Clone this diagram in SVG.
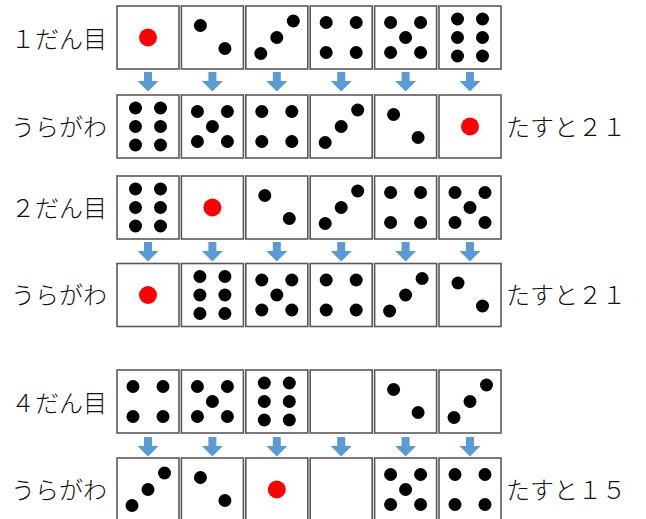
<svg xmlns="http://www.w3.org/2000/svg" xmlns:xlink="http://www.w3.org/1999/xlink" width="646" height="519" viewBox="0 0 646 519">
<style>
.box{fill:#fff;stroke:#595959;stroke-width:1.6}
.d{fill:#000}
.r{fill:#ff0000}
.ar{fill:#5b9bd5}
.t{font-family:"Noto Sans CJK JP","Noto Sans",sans-serif;font-size:24px;font-weight:300;fill:#111}
</style>
<defs>
<g id="f1"><circle class="r" cx="0" cy="0" r="9"/></g>
<g id="f2"><circle class="d" cx="-12" cy="-12" r="6.5"/><circle class="d" cx="12.5" cy="11" r="6.5"/></g>
<g id="f3"><circle class="d" cx="-16" cy="16" r="6.5"/><circle class="d" cx="0" cy="0" r="6.5"/><circle class="d" cx="16.5" cy="-16.5" r="6.5"/></g>
<g id="f4"><circle class="d" cx="-15" cy="-15" r="6.5"/><circle class="d" cx="15" cy="-15" r="6.5"/><circle class="d" cx="-15" cy="15" r="6.5"/><circle class="d" cx="15" cy="15" r="6.5"/></g>
<g id="f5"><circle class="d" cx="-15" cy="-15" r="6.5"/><circle class="d" cx="15" cy="-15" r="6.5"/><circle class="d" cx="0" cy="0" r="6.5"/><circle class="d" cx="-15" cy="15" r="6.5"/><circle class="d" cx="15" cy="15" r="6.5"/></g>
<g id="f6"><circle class="d" cx="-12.5" cy="-18.5" r="6.5"/><circle class="d" cx="12.5" cy="-18.5" r="6.5"/><circle class="d" cx="-12.5" cy="0" r="6.5"/><circle class="d" cx="12.5" cy="0" r="6.5"/><circle class="d" cx="-12.5" cy="18.5" r="6.5"/><circle class="d" cx="12.5" cy="18.5" r="6.5"/></g>
<rect id="bx" class="box" x="-31" y="-31.5" width="62" height="63"/>
<path id="arr" class="ar" d="M-4,0 h8 v9 h6.5 l-10.5,10.5 l-10.5,-10.5 h6.5 z"/>
</defs>

<g id="labels">
<text class="t" x="11" y="48">１だん目</text>
<text class="t" x="11" y="136">うらがわ</text>
<text class="t" x="506" y="136">たすと２１</text>
<text class="t" x="11" y="217">２だん目</text>
<text class="t" x="11" y="304">うらがわ</text>
<text class="t" x="506" y="304">たすと２１</text>
<text class="t" x="11" y="412">４だん目</text>
<text class="t" x="11" y="499">うらがわ</text>
<text class="t" x="506" y="499">たすと１５</text>
</g>

<g id="connectors">
<use href="#arr" x="148" y="72"/><use href="#arr" x="212.4" y="72"/><use href="#arr" x="276.8" y="72"/><use href="#arr" x="341.2" y="72"/><use href="#arr" x="405.6" y="72"/><use href="#arr" x="470" y="72"/>
<use href="#arr" x="148" y="242"/><use href="#arr" x="212.4" y="242"/><use href="#arr" x="276.8" y="242"/><use href="#arr" x="341.2" y="242"/><use href="#arr" x="405.6" y="242"/><use href="#arr" x="470" y="242"/>
<use href="#arr" x="148" y="437"/><use href="#arr" x="212.4" y="437"/><use href="#arr" x="276.8" y="437"/><use href="#arr" x="341.2" y="437"/><use href="#arr" x="405.6" y="437"/><use href="#arr" x="470" y="437"/>
</g>

<!-- row 1 -->
<g id="r1c1" transform="translate(148,37.5)"><use href="#bx"/><use href="#f1"/></g>
<g id="r1c2" transform="translate(212.4,37.5)"><use href="#bx"/><use href="#f2"/></g>
<g id="r1c3" transform="translate(276.8,37.5)"><use href="#bx"/><use href="#f3"/></g>
<g id="r1c4" transform="translate(341.2,37.5)"><use href="#bx"/><use href="#f4"/></g>
<g id="r1c5" transform="translate(405.6,37.5)"><use href="#bx"/><use href="#f5"/></g>
<g id="r1c6" transform="translate(470,37.5)"><use href="#bx"/><use href="#f6"/></g>
<!-- row 2 -->
<g id="r2c1" transform="translate(148,126.5)"><use href="#bx"/><use href="#f6"/></g>
<g id="r2c2" transform="translate(212.4,126.5)"><use href="#bx"/><use href="#f5"/></g>
<g id="r2c3" transform="translate(276.8,126.5)"><use href="#bx"/><use href="#f4"/></g>
<g id="r2c4" transform="translate(341.2,126.5)"><use href="#bx"/><use href="#f3"/></g>
<g id="r2c5" transform="translate(405.6,126.5)"><use href="#bx"/><use href="#f2"/></g>
<g id="r2c6" transform="translate(470,126.5)"><use href="#bx"/><use href="#f1"/></g>
<!-- row 3 -->
<g id="r3c1" transform="translate(148,207.5)"><use href="#bx"/><use href="#f6"/></g>
<g id="r3c2" transform="translate(212.4,207.5)"><use href="#bx"/><use href="#f1"/></g>
<g id="r3c3" transform="translate(276.8,207.5)"><use href="#bx"/><use href="#f2"/></g>
<g id="r3c4" transform="translate(341.2,207.5)"><use href="#bx"/><use href="#f3"/></g>
<g id="r3c5" transform="translate(405.6,207.5)"><use href="#bx"/><use href="#f4"/></g>
<g id="r3c6" transform="translate(470,207.5)"><use href="#bx"/><use href="#f5"/></g>
<!-- row 4 -->
<g id="r4c1" transform="translate(148,295)"><use href="#bx"/><use href="#f1"/></g>
<g id="r4c2" transform="translate(212.4,295)"><use href="#bx"/><use href="#f6"/></g>
<g id="r4c3" transform="translate(276.8,295)"><use href="#bx"/><use href="#f5"/></g>
<g id="r4c4" transform="translate(341.2,295)"><use href="#bx"/><use href="#f4"/></g>
<g id="r4c5" transform="translate(405.6,295)"><use href="#bx"/><use href="#f3"/></g>
<g id="r4c6" transform="translate(470,295)"><use href="#bx"/><use href="#f2"/></g>
<!-- row 5 -->
<g id="r5c1" transform="translate(148,401.5)"><use href="#bx"/><use href="#f4"/></g>
<g id="r5c2" transform="translate(212.4,401.5)"><use href="#bx"/><use href="#f5"/></g>
<g id="r5c3" transform="translate(276.8,401.5)"><use href="#bx"/><use href="#f6"/></g>
<g id="r5c4" transform="translate(341.2,401.5)"><use href="#bx"/></g>
<g id="r5c5" transform="translate(405.6,401.5)"><use href="#bx"/><use href="#f2"/></g>
<g id="r5c6" transform="translate(470,401.5)"><use href="#bx"/><use href="#f3"/></g>
<!-- row 6 -->
<g id="r6c1" transform="translate(148,489.5)"><use href="#bx"/><use href="#f3"/></g>
<g id="r6c2" transform="translate(212.4,489.5)"><use href="#bx"/><use href="#f2"/></g>
<g id="r6c3" transform="translate(276.8,489.5)"><use href="#bx"/><use href="#f1"/></g>
<g id="r6c4" transform="translate(341.2,489.5)"><use href="#bx"/></g>
<g id="r6c5" transform="translate(405.6,489.5)"><use href="#bx"/><use href="#f5"/></g>
<g id="r6c6" transform="translate(470,489.5)"><use href="#bx"/><use href="#f4"/></g>
</svg>
